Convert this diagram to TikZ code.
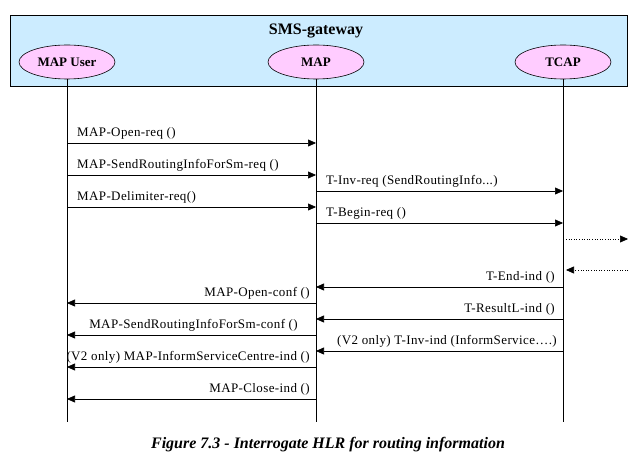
\documentclass[tikz,border=0pt]{standalone}
\usepackage{fontspec}
\setmainfont{Liberation Serif}
\newfontfamily\msgfont[LetterSpace=3]{Liberation Serif}
\usetikzlibrary{arrows.meta,shapes.geometric}
\definecolor{gwblue}{RGB}{204,236,255}
\definecolor{entpink}{RGB}{255,204,255}
\tikzset{
  gwbox/.style={draw=black,fill=gwblue,line width=0.8pt},
  entity/.style={ellipse,draw=black,fill=entpink,line width=0.6pt,minimum width=96pt,minimum height=34pt,inner sep=0pt,font=\fontsize{13}{15}\selectfont\bfseries},
  lifeline/.style={draw=black,line width=0.6pt},
  msg/.style={draw=black,line width=0.6pt,-{Triangle[length=8pt,width=7pt]}},
  dotmsg/.style={draw=black,line width=0.6pt,dotted,-{Triangle[length=8pt,width=7pt]}},
  lblR/.style={anchor=base west,inner sep=0pt,font=\msgfont\fontsize{13}{15}\selectfont},
  lblL/.style={anchor=base east,inner sep=0pt,font=\msgfont\fontsize{13}{15}\selectfont},
}
\begin{document}
\begin{tikzpicture}[x=1pt,y=-1pt]
\useasboundingbox (0,0) rectangle (635,470);
\fill[white] (0,0) rectangle (635,470);
% gateway box
\node[gwbox,minimum width=617pt,minimum height=71pt,inner sep=0pt,anchor=north west] (gw) at (10,15) {};
\node[font=\fontsize{16}{18}\selectfont\bfseries] (gwt) at (316,31) {SMS-gateway};
\node[entity] (user) at (67,62) {MAP User};
\node[entity] (map) at (316,62) {MAP};
\node[entity] (tcap) at (563,62) {TCAP};
% lifeline ends
\coordinate (userE) at (67,422);
\coordinate (mapE) at (316,422);
\coordinate (tcapE) at (563,422);
\draw[lifeline] (user.south) -- (userE);
\draw[lifeline] (map.south) -- (mapE);
\draw[lifeline] (tcap.south) -- (tcapE);
% message end points
\foreach \n/\y in {1/143,2/175,3/191,4/207,5/223,7/287,8/303,9/319,10/335,11/351,12/367,13/399}{
  \coordinate (u\n) at (67,\y);
  \coordinate (m\n) at (316,\y);
  \coordinate (t\n) at (563,\y);
}
\coordinate (d1a) at (566,239);
\coordinate (d1b) at (628,239);
\coordinate (d2a) at (628,270);
\coordinate (d2b) at (566,270);
% requests
\draw[msg] (u1) -- (m1);
\node[lblR] (l1) at ([xshift=10pt,yshift=6pt]u1) {MAP-Open-req ()};
\draw[msg] (u2) -- (m2);
\node[lblR] (l2) at ([xshift=10pt,yshift=6pt]u2) {MAP-SendRoutingInfoForSm-req ()};
\draw[msg] (m3) -- (t3);
\node[lblR] (l3) at ([xshift=10pt,yshift=6pt]m3) {T-Inv-req (SendRoutingInfo...)};
\draw[msg] (u4) -- (m4);
\node[lblR] (l4) at ([xshift=10pt,yshift=6pt]u4) {MAP-Delimiter-req()};
\draw[msg] (m5) -- (t5);
\node[lblR] (l5) at ([xshift=10pt,yshift=6pt]m5) {T-Begin-req ()};
\draw[dotmsg] (d1a) -- (d1b);
\draw[dotmsg] (d2a) -- (d2b);
% responses
\draw[msg] (t7) -- (m7);
\node[lblL] (l7) at ([xshift=-8pt,yshift=6pt]t7) {T-End-ind ()};
\draw[msg] (m8) -- (u8);
\node[lblL] (l8) at ([xshift=-6pt,yshift=6pt]m8) {MAP-Open-conf ()};
\draw[msg] (t9) -- (m9);
\node[lblL] (l9) at ([xshift=-8pt,yshift=6pt]t9) {T-ResultL-ind ()};
\draw[msg] (m10) -- (u10);
\node[lblL] (l10) at ([xshift=-18pt,yshift=6pt]m10) {MAP-SendRoutingInfoForSm-conf ()};
\draw[msg] (t11) -- (m11);
\node[lblL] (l11) at ([xshift=-6pt,yshift=6pt]t11) {(V2 only) T-Inv-ind (InformService….)};
\draw[msg] (m12) -- (u12);
\node[lblL] (l12) at ([xshift=-6pt,yshift=6pt]m12) {(V2 only) MAP-InformServiceCentre-ind ()};
\draw[msg] (m13) -- (u13);
\node[lblL] (l13) at ([xshift=-6pt,yshift=6pt]m13) {MAP-Close-ind ()};
% caption
\node[font=\fontsize{16}{18}\selectfont\bfseries\itshape] (cap) at (328,445) {Figure 7.3 - Interrogate HLR for routing information};
\end{tikzpicture}
\end{document}
